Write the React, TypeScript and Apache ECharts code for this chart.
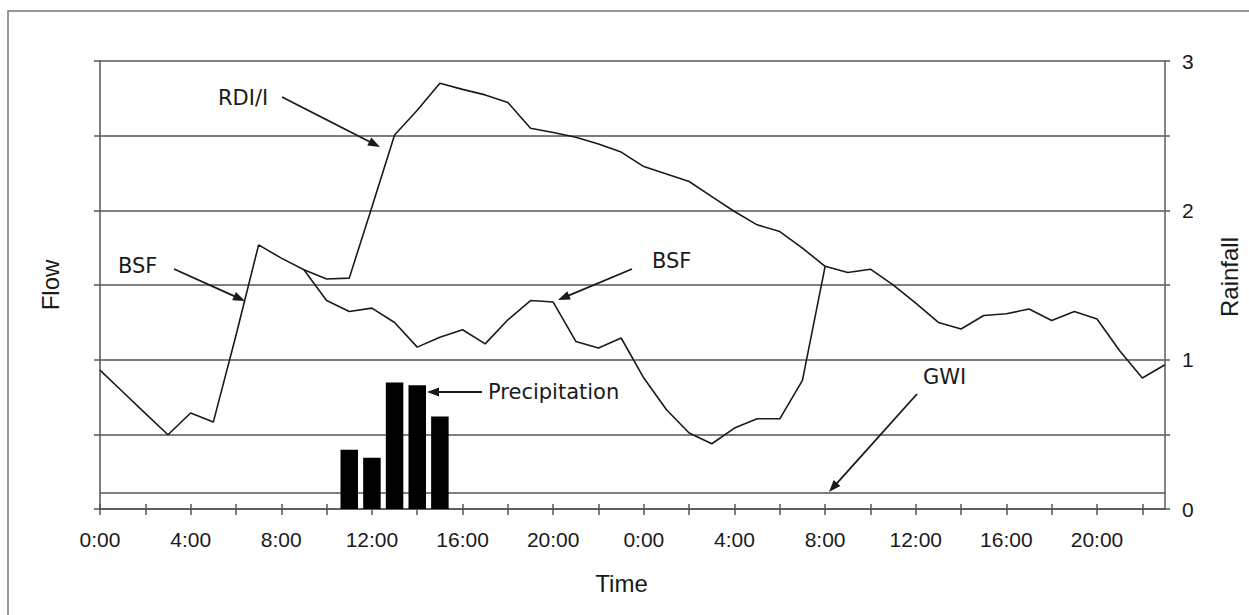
import React, { useEffect, useRef } from "react";
import * as echarts from "echarts";

// 48 hourly categories (two days)
const hourLabels = [
  "0:00", "1:00", "2:00", "3:00", "4:00", "5:00", "6:00", "7:00", "8:00", "9:00", "10:00", "11:00",
  "12:00", "13:00", "14:00", "15:00", "16:00", "17:00", "18:00", "19:00", "20:00", "21:00", "22:00", "23:00",
  "0:00", "1:00", "2:00", "3:00", "4:00", "5:00", "6:00", "7:00", "8:00", "9:00", "10:00", "11:00",
  "12:00", "13:00", "14:00", "15:00", "16:00", "17:00", "18:00", "19:00", "20:00", "21:00", "22:00", "23:00",
];

// Base sanitary flow (dry weather pattern), hourly
const bsfFlow = [
  0.93, 0.785, 0.64, 0.497, 0.643, 0.582, 1.162, 1.769, 1.68, 1.602, 1.396, 1.323,
  1.345, 1.249, 1.084, 1.15, 1.2, 1.106, 1.267, 1.396, 1.386, 1.122, 1.078, 1.145,
  0.877, 0.665, 0.509, 0.437, 0.542, 0.604, 0.604, 0.861, 1.625, 1.584, 1.606, 1.501,
  1.378, 1.249, 1.205, 1.296, 1.307, 1.339, 1.262, 1.323, 1.272, 1.06, 0.877, 0.966,
];

// Wet weather flow (BSF + RDI/I) during the event, starting at hour index 9
const wetStartIndex = 9;
const wetFlow = [
  1.602, 1.54, 1.546, 2.022, 2.505, 2.67, 2.851, 2.81, 2.773, 2.722, 2.55, 2.521,
  2.49, 2.444, 2.39, 2.293, 2.244, 2.193, 2.092, 1.992, 1.903, 1.858, 1.747, 1.625,
];

// Groundwater infiltration level
const gwiLevel = 0.107;

// Precipitation bars
const rainHourIndex = [11, 12, 13, 14, 15];
const rainValues = [0.397, 0.343, 0.847, 0.828, 0.62];

// Right axis
const rainfallMin = 0;
const rainfallMax = 3;

const LABEL_FONT = "'Liberation Sans', Arial, sans-serif";
const NOTE_FONT = "'DejaVu Sans', 'Liberation Sans', sans-serif";
const INK = "#1a1a1a";
const GRID_COLOR = "#555";

function arrow(x1: number, y1: number, x2: number, y2: number) {
  const dx = x2 - x1;
  const dy = y2 - y1;
  const len = Math.sqrt(dx * dx + dy * dy);
  const ux = dx / len;
  const uy = dy / len;
  const headLen = 12;
  const headHalf = 4.5;
  const bx = x2 - ux * headLen;
  const by = y2 - uy * headLen;
  const px = -uy;
  const py = ux;
  return [
    {
      type: "line",
      shape: { x1, y1, x2: bx + ux * 2, y2: by + uy * 2 },
      style: { stroke: INK, lineWidth: 1.8 },
      z: 100,
    },
    {
      type: "polygon",
      shape: {
        points: [
          [x2, y2],
          [bx + px * headHalf, by + py * headHalf],
          [bx - px * headHalf, by - py * headHalf],
        ],
      },
      style: { fill: INK },
      z: 100,
    },
  ];
}

function note(text: string, x: number, y: number, size = 21) {
  return {
    type: "text",
    x,
    y,
    z: 100,
    style: {
      text,
      fill: INK,
      fontSize: size,
      fontFamily: NOTE_FONT,
      align: "left",
      verticalAlign: "middle",
      textAlign: "left",
      textVerticalAlign: "middle",
    },
  };
}

export default function App() {
  const ref = useRef<HTMLDivElement>(null);

  useEffect(() => {
    if (!ref.current) return;
    const chart = echarts.init(ref.current, undefined, { renderer: "svg" });

    const wetData = hourLabels.map((_, i) => {
      const k = i - wetStartIndex;
      return k >= 0 && k < wetFlow.length ? wetFlow[k] : null;
    });
    const rainData = rainValues.map((v, i) => [rainHourIndex[i], v]);

    const axisTextStyle = { color: INK, fontSize: 21, fontFamily: LABEL_FONT };
    const nameStyle = { color: INK, fontSize: 24, fontFamily: LABEL_FONT };

    chart.setOption({
      animation: false,
      backgroundColor: "#fff",
      grid: { left: 100, right: 84, top: 61, bottom: 106, containLabel: false },
      xAxis: [
        {
          type: "category",
          data: hourLabels,
          boundaryGap: false,
          position: "bottom",
          name: "Time",
          nameLocation: "middle",
          nameGap: 62,
          nameTextStyle: { ...nameStyle, padding: [0, 22, 0, 0] },
          axisLine: { show: true, lineStyle: { color: GRID_COLOR, width: 1.5 } },
          axisTick: { show: true, interval: 1, length: 6, lineStyle: { color: GRID_COLOR, width: 1.5 } },
          axisLabel: { interval: 3, margin: 20, ...axisTextStyle },
          splitLine: { show: false },
        },
        {
          type: "category",
          data: hourLabels,
          boundaryGap: false,
          position: "bottom",
          axisLine: { show: false },
          axisTick: { show: true, inside: true, interval: 1, length: 5, lineStyle: { color: GRID_COLOR, width: 1.5 } },
          axisLabel: { show: false },
          splitLine: { show: false },
        },
      ],
      yAxis: [
        {
          type: "value",
          min: 0,
          max: 3,
          interval: 0.5,
          position: "left",
          name: "Flow",
          nameLocation: "middle",
          nameGap: 38,
          nameRotate: 90,
          nameTextStyle: nameStyle,
          axisLine: { show: true, lineStyle: { color: GRID_COLOR, width: 1.5 } },
          axisTick: { show: true, length: 6, lineStyle: { color: GRID_COLOR, width: 1.5 } },
          axisLabel: { show: false },
          splitLine: { show: true, lineStyle: { color: GRID_COLOR, width: 1.5 } },
        },
        {
          type: "value",
          min: rainfallMin,
          max: rainfallMax,
          interval: 0.5,
          position: "right",
          name: "Rainfall",
          nameLocation: "middle",
          nameGap: 52,
          nameRotate: 90,
          nameTextStyle: { ...nameStyle, padding: [0, 0, 0, 16] },
          axisLine: { show: true, lineStyle: { color: "#777", width: 1.8 } },
          axisTick: { show: true, length: 5, lineStyle: { color: GRID_COLOR, width: 1.5 } },
          axisLabel: {
            margin: 17,
            ...axisTextStyle,
            formatter: (v: number) => (Number.isInteger(v) ? String(v) : ""),
          },
          splitLine: { show: false },
        },
      ],
      series: [
        {
          name: "BSF",
          type: "line",
          data: bsfFlow,
          xAxisIndex: 0,
          yAxisIndex: 0,
          symbol: "none",
          lineStyle: { color: INK, width: 1.6 },
          z: 5,
          markLine: {
            silent: true,
            symbol: ["none", "none"],
            label: { show: false },
            lineStyle: { color: GRID_COLOR, width: 1.5, type: "solid" },
            data: [{ yAxis: gwiLevel }],
          },
        },
        {
          name: "RDI/I",
          type: "line",
          data: wetData,
          xAxisIndex: 0,
          yAxisIndex: 0,
          symbol: "none",
          connectNulls: false,
          lineStyle: { color: INK, width: 1.6 },
          z: 5,
        },
        {
          name: "Precipitation",
          type: "bar",
          data: rainData,
          xAxisIndex: 0,
          yAxisIndex: 1,
          barWidth: 17.5,
          itemStyle: { color: "#000" },
          z: 6,
        },
      ],
      graphic: [
        {
          type: "rect",
          shape: { x: 8, y: 11, width: 1270, height: 640 },
          style: { fill: "none", stroke: "#777", lineWidth: 1.5 },
          z: 0,
        },
        note("RDI/I", 218, 98),
        ...arrow(282, 97, 380, 147),
        note("BSF", 118, 266),
        ...arrow(174, 269, 245, 301),
        note("BSF", 652, 261),
        ...arrow(632, 269, 558, 300),
        note("Precipitation", 488, 392),
        ...arrow(482, 392, 427, 392),
        note("GWI", 923, 377),
        ...arrow(917, 394, 829, 492),
      ],
    });

    return () => chart.dispose();
  }, []);

  return (
    <div
      ref={ref}
      style={{ position: "fixed", left: 0, top: 0, width: 1249, height: 615, background: "#fff" }}
    />
  );
}
